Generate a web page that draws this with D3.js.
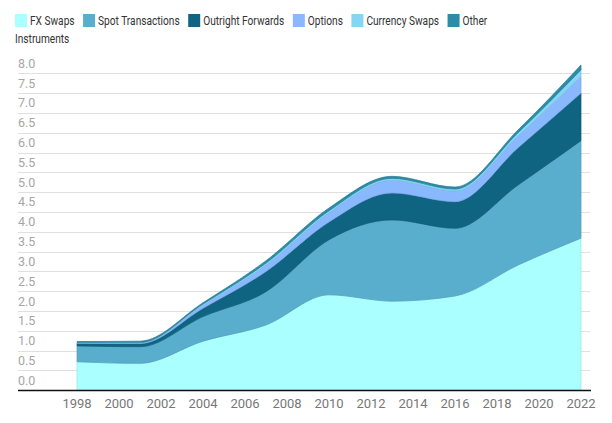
<!DOCTYPE html>
<html><head><meta charset="utf-8">
<script src="https://cdn.jsdelivr.net/npm/d3@7"></script>
<style>body{margin:0;background:#fff;font-family:Roboto,"Noto Sans",sans-serif;}</style>
</head><body><svg id="c" width="612" height="423"></svg>
<script>
const years = [1998, 2001, 2004, 2007, 2010, 2013, 2016, 2019, 2022];
const fxSwaps = [0.72, 0.68, 1.24, 1.65, 2.41, 2.25, 2.38, 3.16, 3.84];
const spot = [0.40, 0.42, 0.62, 0.84, 1.39, 2.05, 1.71, 2.02, 2.46];
const outright = [0.07, 0.08, 0.21, 0.51, 0.45, 0.68, 0.67, 0.94, 1.20];
const options = [0.01, 0.02, 0.08, 0.16, 0.23, 0.32, 0.27, 0.30, 0.42];
const currencySwaps = [0.01, 0.01, 0.03, 0.05, 0.05, 0.05, 0.05, 0.08, 0.17];
const other = [0.02, 0.03, 0.03, 0.06, 0.07, 0.05, 0.05, 0.07, 0.12];
const seriesNames = ["FX Swaps", "Spot Transactions", "Outright Forwards", "Options", "Currency Swaps", "Other Instruments"];
const colors = ["#aaffff", "#5aaecd", "#0f6482", "#8ab8fe", "#85d6f5", "#2b8ba8"];
const yTicks = [0, 0.5, 1, 1.5, 2, 2.5, 3, 3.5, 4, 4.5, 5, 5.5, 6, 6.5, 7, 7.5, 8];
const xTicks = [1998, 2000, 2002, 2004, 2006, 2008, 2010, 2012, 2014, 2016, 2018, 2020, 2022];

const allSeries = [fxSwaps, spot, outright, options, currencySwaps, other];
const table = years.map((y, i) => {
  const r = {year: y};
  seriesNames.forEach((n, k) => r[n] = allSeries[k][i]);
  return r;
});

const svg = d3.select("#c");
const x = d3.scaleLinear().domain([1998, 2022]).range([77, 581]);
const y = d3.scaleLinear().domain([0, 8]).range([390.3, 73.3]);

// gridlines
svg.append("g").selectAll("line").data(yTicks.filter(d => d > 0)).join("line")
  .attr("x1", 18).attr("x2", 590).attr("y1", d => Math.round(y(d)) + 0.5).attr("y2", d => Math.round(y(d)) + 0.5)
  .attr("stroke", "#e0e0e0").attr("stroke-width", 1);

// y labels
svg.append("g").selectAll("text").data(yTicks).join("text")
  .attr("x", 18).attr("y", d => y(d) - 5.5)
  .attr("fill", "#a6a6a6").attr("font-size", 12.5)
  .text(d => d.toFixed(1));

const stack = d3.stack().keys(seriesNames)(table);
const area = d3.area().curve(d3.curveMonotoneX)
  .x(d => x(d.data.year)).y0(d => y(d[0])).y1(d => y(d[1]));

svg.append("g").selectAll("path").data(stack).join("path")
  .attr("d", area)
  .attr("fill", (d, i) => colors[i])
  .attr("stroke", (d, i) => d3.color(colors[i]).darker(0.3))
  .attr("stroke-width", 0.7);

// x axis line
svg.append("line").attr("x1", 18).attr("x2", 591).attr("y1", 390.5).attr("y2", 390.5)
  .attr("stroke", "#111").attr("stroke-width", 1.5);

svg.append("g").selectAll("text").data(xTicks).join("text")
  .attr("x", d => x(d)).attr("y", 407.5).attr("text-anchor", "middle")
  .attr("fill", "#777").attr("font-size", 13)
  .text(d => d);

// legend (condensed text)
const lg = svg.append("g");
let lx = 15;
const squeeze = 0.78;
const firstLine = ["FX Swaps", "Spot Transactions", "Outright Forwards", "Options", "Currency Swaps", "Other"];
firstLine.forEach((n, i) => {
  lg.append("rect").attr("x", lx).attr("y", 14).attr("width", 12).attr("height", 13).attr("fill", colors[i]);
  const t = lg.append("text").attr("x", lx + 15).attr("y", 25).attr("font-size", 13).attr("fill", "#333").text(n);
  const w = t.node().getComputedTextLength() * squeeze;
  t.attr("textLength", w).attr("lengthAdjust", "spacingAndGlyphs");
  lx += 15 + w + 8.5;
});
const t2 = lg.append("text").attr("x", 15).attr("y", 42.5).attr("font-size", 13).attr("fill", "#333").text("Instruments");
t2.attr("textLength", t2.node().getComputedTextLength() * squeeze).attr("lengthAdjust", "spacingAndGlyphs");
</script></body></html>
